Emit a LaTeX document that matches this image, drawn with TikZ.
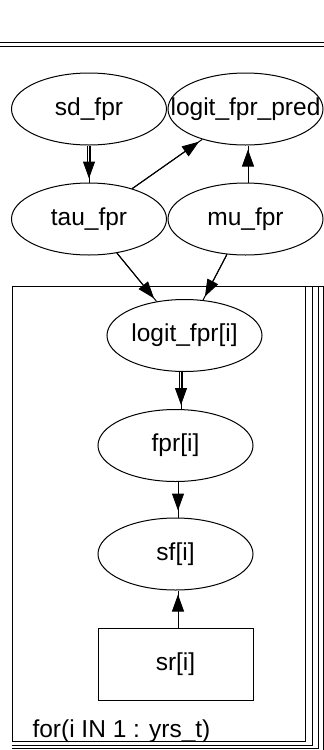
\documentclass[tikz,border=0pt]{standalone}
\usepackage{fontspec}
\setmainfont{Liberation Sans}
\usetikzlibrary{shapes.geometric,arrows.meta}
\begin{document}
\begin{tikzpicture}[x=1pt,y=-1pt,line width=1pt,
  lab/.style={font=\fontsize{24.5}{28}\selectfont, inner sep=0pt},
  var/.style={ellipse, draw, minimum width=155pt, minimum height=72pt, inner sep=0pt, label={[lab]center:{#1}}},
  datab/.style={rectangle, draw, minimum width=155pt, minimum height=72pt, inner sep=0pt, label={[lab]center:{#1}}},
  tip/.style={-{Triangle[length=17pt,width=12pt]}, shorten >=#1},
  tip/.default=4pt,
  dbl/.style={double, double distance=2.5pt, shorten >=#1},
  dbl/.default=20pt]
\useasboundingbox (0,0) rectangle (324,750);
% top frame lines
\draw (0,42.7) -- (324,42.7);
\draw (0,46.7) -- (324,46.7);
% nodes
\node[var={sd\_fpr}] (sd) at (89,109) {};
\node[var={logit\_fpr\_pred}] (pred) at (245.5,109) {};
\node[var={tau\_fpr}] (tau) at (89,219) {};
\node[var={mu\_fpr}] (mu) at (245.5,219) {};
\node[var={logit\_fpr[i]}] (logit) at (184.5,335.5) {};
\node[var={fpr[i]}] (fpr) at (175.5,445.5) {};
\node[var={sf[i]}] (sf) at (175.5,554) {};
\node[datab={sr[i]}] (sr) at (175.5,664) {};
% plate
\draw (12,286) rectangle (305,741);
\draw (12,286) -- (324,286);
\draw (12,745) -- (312,745) -- (312,286);
\draw (12,748) -- (318,748) -- (318,286);
\draw (323,286) -- (323,750);
\node[lab, anchor=base west] (forlab) at (32,737) {for(i IN 1 : yrs\_t)};
% connectors
\draw (sd) -- (tau);
\draw[dbl] (sd) -- (tau);
\draw[tip] (sd) -- (tau);
\draw (tau) -- (pred);
\draw[tip] (tau) -- (pred);
\draw ([xshift=2.5pt]mu.north) -- ([xshift=2.5pt]pred.south);
\draw[tip] ([xshift=2.5pt]mu.north) -- ([xshift=2.5pt]pred.south);
\draw (tau) -- (logit);
\draw[tip] (tau) -- (logit);
\draw (mu) -- (logit);
\draw[tip] (mu) -- (logit);
\draw ([xshift=-3.5pt]logit.south) -- ([xshift=5.5pt]fpr.north);
\draw[dbl] ([xshift=-3.5pt]logit.south) -- ([xshift=5.5pt]fpr.north);
\draw[tip] ([xshift=-3.5pt]logit.south) -- ([xshift=5.5pt]fpr.north);
\draw ([xshift=2.5pt]fpr.south) -- ([xshift=2.5pt]sf.north);
\draw[tip=7pt] ([xshift=2.5pt]fpr.south) -- ([xshift=2.5pt]sf.north);
\draw ([xshift=2.5pt]sr.north) -- ([xshift=2.5pt]sf.south);
\draw[tip] ([xshift=2.5pt]sr.north) -- ([xshift=2.5pt]sf.south);
\end{tikzpicture}
\end{document}
